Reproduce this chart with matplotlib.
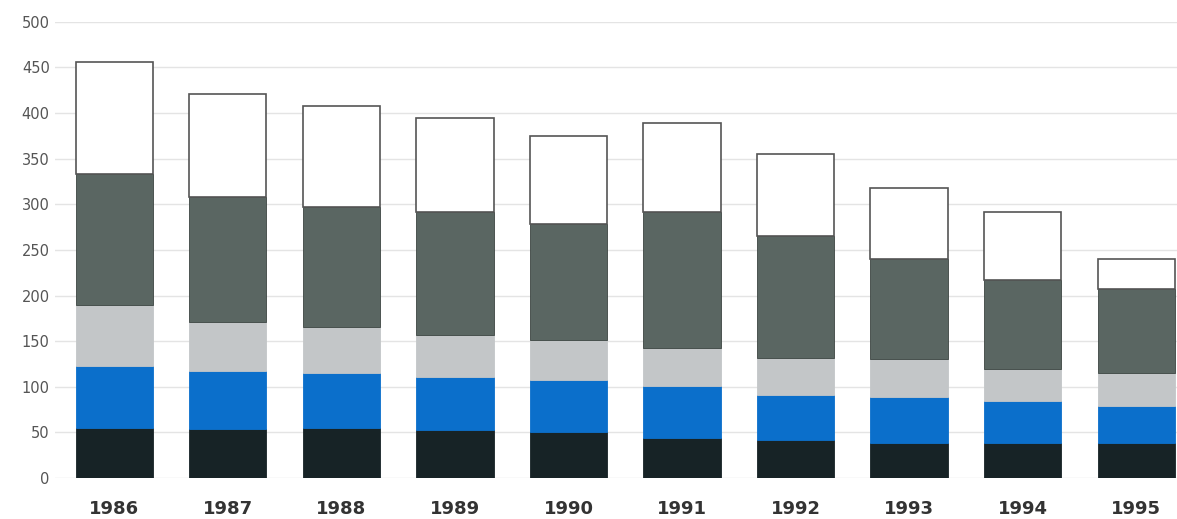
import matplotlib
matplotlib.use("Agg")
import matplotlib.pyplot as plt
import numpy as np

years = ["1986", "1987", "1988", "1989", "1990", "1991", "1992", "1993", "1994", "1995"]
# cumulative tops, converted to segment values
black = [55, 54, 55, 53, 50, 44, 42, 38, 38, 38]
blue = [68, 63, 60, 58, 57, 57, 49, 51, 46, 41]
light_gray = [67, 54, 51, 46, 44, 42, 41, 41, 36, 36]
dark_gray = [143, 137, 131, 135, 127, 149, 133, 110, 97, 92]
white = [123, 113, 111, 103, 97, 97, 90, 78, 74, 33]

series = [black, blue, light_gray, dark_gray, white]
colors = ["#172326", "#0b6fcb", "#c3c6c8", "#5a6662", "#ffffff"]
edges = ["#172326", "#0b6fcb", "#c3c6c8", "#3c4542", "#555555"]

fig = plt.figure(figsize=(11.77, 5.19), dpi=100)
ax = fig.add_axes([0.047, 0.079, 0.953, 0.879])

x = np.arange(len(years))
bottom = np.zeros(len(years))
for vals, c, ec in zip(series, colors, edges):
    ax.bar(x, vals, bottom=bottom, width=0.68, color=c, edgecolor=ec,
           linewidth=1.2 if c == "#ffffff" else 0.6, zorder=3)
    bottom += np.array(vals)

ax.set_ylim(0, 500)
ax.set_xlim(-0.52, 9.36)
ax.set_yticks(np.arange(0, 501, 50))
ax.yaxis.grid(True, color="#e4e4e4", linewidth=1.0, zorder=0)
ax.set_axisbelow(True)
for s in ax.spines.values():
    s.set_visible(False)
ax.tick_params(axis="y", length=0, pad=4, labelsize=10.5, labelcolor="#555555")
ax.tick_params(axis="x", length=0, pad=16, labelsize=13, labelcolor="#333333")
ax.set_xticks(x)
ax.set_xticklabels(years, fontweight="bold")

fig.savefig("out.png", dpi=100)
